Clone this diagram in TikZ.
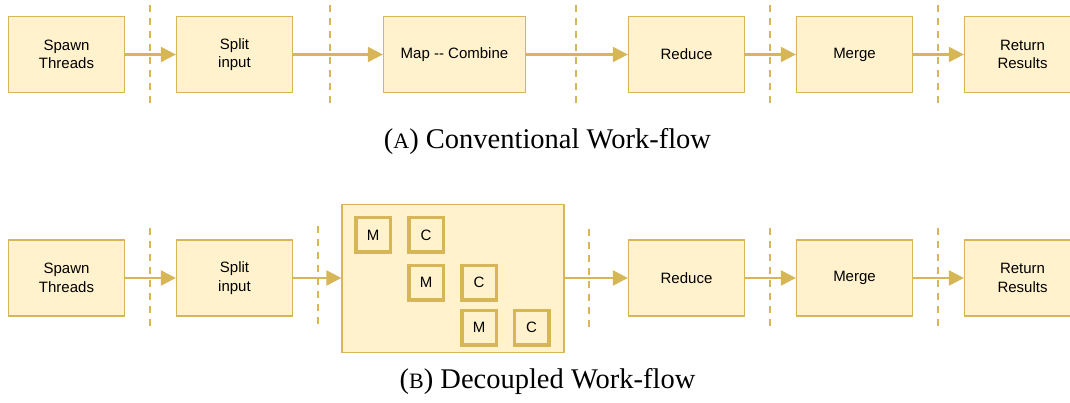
\documentclass[tikz,border=0pt]{standalone}
\usepackage{fontspec}
\newfontfamily\boxfont{Liberation Sans}
\newfontfamily\capfont{Liberation Serif}
\usetikzlibrary{arrows.meta}
\definecolor{goldline}{HTML}{D6B656}
\definecolor{goldfill}{HTML}{FFF2CC}
% caption letter in small capitals
\newcommand{\capletter}[1]{{\fontsize{22}{27}\selectfont #1}}
\tikzset{
  stage/.style={draw=goldline, fill=goldfill, line width=1.3pt, minimum width=116pt,
    minimum height=76pt, inner sep=0pt, align=center,
    font=\boxfont\fontsize{15}{18.5}\selectfont},
  task/.style={draw=goldline, fill=goldfill, line width=3.5pt, minimum size=34.5pt,
    inner sep=0pt, font=\boxfont\fontsize{15}{18.5}\selectfont},
  flow/.style={draw=goldline, line width=2.2pt, -{Triangle[length=15pt,width=15pt]}},
  barrier/.style={draw=goldline, line width=2.8pt, dash pattern=on 7pt off 6pt},
  caption/.style={font=\capfont\fontsize{28.5}{33}\selectfont}
}
\begin{document}
\begin{tikzpicture}[x=1pt,y=-1pt]
\useasboundingbox (0,0) rectangle (1070,403);
\clip (0,0) rectangle (1070,403);

% ---- conventional work-flow ----
\foreach \x in {150,330,576,770,938}
  \draw[barrier] (\x,5) -- (\x,105);
\node[stage] (a1) at (66.5,54.5) {Spawn\\Threads};
\node[stage] (a2) at (234.5,54.5) {Split\\input};
\node[stage, minimum width=142pt] (a3) at (454.5,54.5) {Map -- Combine};
\node[stage] (a4) at (686.5,54.5) {Reduce};
\node[stage] (a5) at (854.5,54.5) {Merge};
\node[stage] (a6) at (1022.5,54.5) {Return\\Results};
\foreach \s/\t in {a1/a2,a2/a3,a3/a4,a4/a5,a5/a6}
  \draw[flow] (\s) -- (\t);
\node[caption] (capa) at (547.5,142) {(\capletter{A}) Conventional Work-flow};

% ---- decoupled work-flow ----
\draw[barrier] (150,228) -- (150,328);
\draw[barrier] (318,226) -- (318,327);
\draw[barrier] (589,229) -- (589,330);
\draw[barrier] (770,228) -- (770,328);
\draw[barrier] (938,228) -- (938,328);
\node[stage] (b1) at (66.5,278) {Spawn\\Threads};
\node[stage] (b2) at (234.5,278) {Split\\input};
\node[stage, minimum width=222pt, minimum height=148pt] (b3) at (453,278.5) {};
\node[stage] (b4) at (686.5,278) {Reduce};
\node[stage] (b5) at (854.5,278) {Merge};
\node[stage] (b6) at (1022.5,278) {Return\\Results};
\node[task] (m1) at (373,235) {M};
\node[task] (c1) at (426,235) {C};
\node[task] (m2) at (426,282.5) {M};
\node[task] (c2) at (479,282.5) {C};
\node[task] (m3) at (479,327.5) {M};
\node[task] (c3) at (531.5,327.5) {C};
\draw[flow] (b1) -- (b2);
\draw[flow] (b2.east) -- (b2.east -| b3.west);
\draw[flow] (b4.west -| b3.east) -- (b4.west);
\draw[flow] (b4) -- (b5);
\draw[flow] (b5) -- (b6);
\node[caption] (capb) at (547.5,381) {(\capletter{B}) Decoupled Work-flow};
\end{tikzpicture}
\end{document}
